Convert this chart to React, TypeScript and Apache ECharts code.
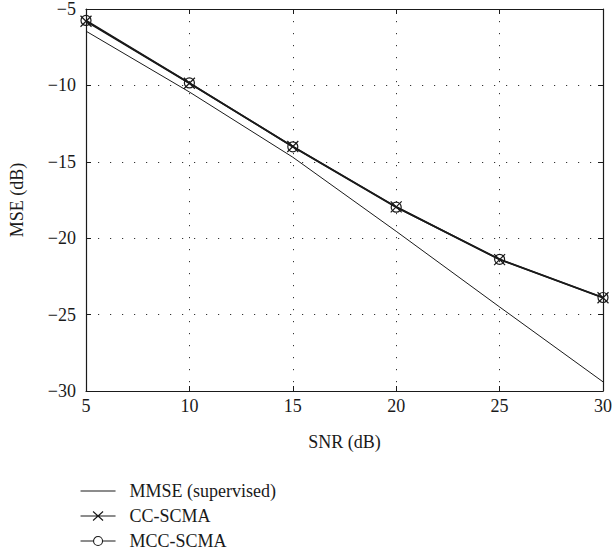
import React, { useEffect, useRef } from "react";
import * as echarts from "echarts";

const snr = [5, 10, 15, 20, 25, 30];
const mmse = [-6.45, -10.43, -14.7, -19.55, -24.5, -29.4];
const ccScma = [-5.8, -9.86, -14.0, -17.95, -21.4, -23.9];
const mccScma = [-5.75, -9.84, -14.02, -17.97, -21.38, -23.88];

const seriesNames = ["MMSE (supervised)", "CC-SCMA", "MCC-SCMA"];

const X_PATH = "path://M0,0L10,10M10,0L0,10";
const O_PATH = "path://M10,5A5,5 0 1,1 0,5A5,5 0 1,1 10,5Z";

// legend icons drawn in a 35 x 14 box (corner specks fix the box)
const BOX = "M0,0L0.01,0M35,14L34.99,14";
const LEG_LINE = "path://" + BOX + "M0,7L35,7";
const LEG_X = "path://" + BOX + "M0,7L35,7M12.5,2.5L22.5,11.5M22.5,2.5L12.5,11.5";
const LEG_O =
  "path://" + BOX + "M0,7L13,7M22,7L35,7M22,7A4.5,4.5 0 1,1 13,7A4.5,4.5 0 1,1 22,7Z";

const FONT = "Liberation Serif, Times New Roman, serif";
const INK = "#1a1a1a";

const fmtMinus = (v: number) => String(v).replace("-", "\u2212");

export default function App() {
  const ref = useRef<HTMLDivElement>(null);
  useEffect(() => {
    if (!ref.current) return;
    const chart = echarts.init(ref.current, undefined, { renderer: "svg" });
    const pair = (ys: number[]) => snr.map((x, i) => [x, ys[i]]);
    const axisCommon = {
      type: "value" as const,
      interval: 5,
      axisLine: { show: true, onZero: false, lineStyle: { color: INK, width: 1.2 } },
      axisTick: { show: true, inside: true, length: 5, lineStyle: { color: INK, width: 1 } },
    };
    const legItem = (name: string, icon: string) => ({
      name,
      icon,
      itemStyle: { color: "transparent", borderColor: INK, borderWidth: 1.1 },
    });
    chart.setOption({
      animation: false,
      backgroundColor: "#ffffff",
      grid: { left: 86, top: 5, right: 13, bottom: 165, containLabel: false },
      xAxis: [
        {
          ...axisCommon,
          position: "bottom",
          min: 5,
          max: 30,
          name: "SNR (dB)",
          nameLocation: "middle",
          nameGap: 42,
          nameTextStyle: { fontFamily: FONT, fontSize: 18, color: INK },
          axisLabel: { fontFamily: FONT, fontSize: 18, color: INK, margin: 6, formatter: fmtMinus },
          splitLine: { show: true, lineStyle: { color: "#333", width: 1, type: [1.2, 10.8] } },
        },
        {
          ...axisCommon,
          position: "top",
          min: 5,
          max: 30,
          axisLabel: { show: false },
          splitLine: { show: false },
        },
      ],
      yAxis: [
        {
          ...axisCommon,
          position: "left",
          min: -30,
          max: -5,
          name: "MSE (dB)",
          nameLocation: "middle",
          nameGap: 60,
          nameRotate: 90,
          nameTextStyle: { fontFamily: FONT, fontSize: 18, color: INK },
          axisLabel: { fontFamily: FONT, fontSize: 18, color: INK, margin: 10, formatter: fmtMinus },
          splitLine: { show: true, lineStyle: { color: "#333", width: 1, type: [1.2, 10.8] } },
        },
        {
          ...axisCommon,
          position: "right",
          min: -30,
          max: -5,
          axisLabel: { show: false },
          splitLine: { show: false },
        },
      ],
      legend: {
        orient: "vertical",
        left: 80,
        top: 482,
        height: 75,
        padding: 0,
        itemWidth: 35,
        itemHeight: 14,
        itemGap: 7,
        data: [
          legItem(seriesNames[0], LEG_LINE),
          legItem(seriesNames[1], LEG_X),
          legItem(seriesNames[2], LEG_O),
        ],
        textStyle: {
          fontFamily: FONT,
          fontSize: 18,
          lineHeight: 18,
          color: INK,
          padding: [0, 0, 0, 9],
        },
      },
      series: [
        {
          name: seriesNames[0],
          type: "line",
          data: pair(mmse),
          symbol: "none",
          lineStyle: { color: INK, width: 1 },
          itemStyle: { color: INK },
        },
        {
          name: seriesNames[1],
          type: "line",
          data: pair(ccScma),
          symbol: X_PATH,
          symbolSize: 11,
          lineStyle: { color: INK, width: 1.7 },
          itemStyle: { color: "transparent", borderColor: INK, borderWidth: 1.2 },
        },
        {
          name: seriesNames[2],
          type: "line",
          data: pair(mccScma),
          symbol: O_PATH,
          symbolSize: 10,
          lineStyle: { color: INK, width: 1.7 },
          itemStyle: { color: "transparent", borderColor: INK, borderWidth: 1.2 },
        },
      ],
    });
    return () => chart.dispose();
  }, []);
  return (
    <div
      ref={ref}
      style={{ position: "absolute", left: 0, top: 0, width: 616, height: 556 }}
    />
  );
}
